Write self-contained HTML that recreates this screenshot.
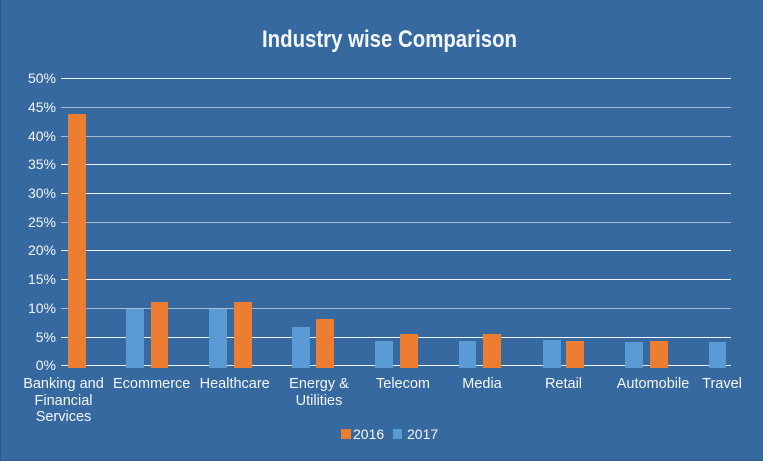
<!DOCTYPE html>
<html>
<head>
<meta charset="utf-8">
<style>
html,body{margin:0;padding:0;background:#35699f;}
svg{display:block;}
text{font-family:"Liberation Sans",Arial,sans-serif;fill:#f4f6f9;}
</style>
</head>
<body>
<svg width="763" height="461" viewBox="0 0 763 461" xmlns="http://www.w3.org/2000/svg">
<rect x="0" y="0" width="763" height="461" fill="#35699f"/>
<rect x="0" y="0" width="1" height="461" fill="#2c5a8a"/>
<rect x="0" y="460" width="763" height="1" fill="#2c5a8a"/>

<text x="389.5" y="47" font-size="24" font-weight="bold" text-anchor="middle" textLength="255" lengthAdjust="spacingAndGlyphs">Industry wise Comparison</text>

<!-- gridlines -->
<g>
<rect x="61" y="78" width="670" height="1" fill="#f0f3f7"/>
<rect x="61" y="107" width="670" height="1" fill="#a9bcd0"/>
<rect x="61" y="136" width="670" height="1" fill="#a9bcd0"/>
<rect x="61" y="164" width="670" height="1" fill="#f0f3f7"/>
<rect x="61" y="193" width="670" height="1" fill="#f0f3f7"/>
<rect x="61" y="222" width="670" height="1" fill="#a9bcd0"/>
<rect x="61" y="250" width="670" height="1" fill="#f0f3f7"/>
<rect x="61" y="279" width="670" height="1" fill="#f0f3f7"/>
<rect x="61" y="308" width="670" height="1" fill="#a9bcd0"/>
<rect x="61" y="337" width="670" height="1" fill="#f0f3f7"/>
<rect x="61" y="365" width="670" height="1" fill="#f0f3f7"/>
</g>

<!-- y labels -->
<g font-size="14" text-anchor="end">
<text x="56" y="83">50%</text>
<text x="56" y="112">45%</text>
<text x="56" y="141">40%</text>
<text x="56" y="169">35%</text>
<text x="56" y="198">30%</text>
<text x="56" y="227">25%</text>
<text x="56" y="255">20%</text>
<text x="56" y="284">15%</text>
<text x="56" y="313">10%</text>
<text x="56" y="342">5%</text>
<text x="56" y="370">0%</text>
</g>

<!-- bars -->
<g fill="#5b9bd5">
<rect x="126" y="309" width="18" height="59"/>
<rect x="209" y="309" width="18" height="59"/>
<rect x="292" y="327" width="18" height="41"/>
<rect x="375" y="341" width="18" height="27"/>
<rect x="459" y="341" width="17" height="27"/>
<rect x="543" y="340" width="18" height="28"/>
<rect x="625" y="342" width="18" height="26"/>
<rect x="709" y="342" width="17" height="26"/>
</g>
<g fill="#ed7d31">
<rect x="68" y="114" width="18" height="254"/>
<rect x="151" y="302" width="17" height="66"/>
<rect x="234" y="302" width="18" height="66"/>
<rect x="316" y="319" width="18" height="49"/>
<rect x="400" y="334" width="18" height="34"/>
<rect x="483" y="334" width="18" height="34"/>
<rect x="566" y="341" width="18" height="27"/>
<rect x="650" y="341" width="18" height="27"/>
</g>

<!-- x labels -->
<g font-size="14.5" text-anchor="middle">
<text x="63.5" y="388">Banking and</text>
<text x="63.5" y="405">Financial</text>
<text x="63.5" y="421">Services</text>
<text x="151.7" y="388">Ecommerce</text>
<text x="234.7" y="388">Healthcare</text>
<text x="319" y="388">Energy &amp;</text>
<text x="319" y="405">Utilities</text>
<text x="403" y="388">Telecom</text>
<text x="482" y="388">Media</text>
<text x="563.5" y="388">Retail</text>
<text x="653" y="388">Automobile</text>
<text x="722" y="388">Travel</text>
</g>

<!-- legend -->
<rect x="341" y="429" width="10" height="10" fill="#ed7d31"/>
<text x="353" y="439" font-size="14">2016</text>
<rect x="393" y="429" width="9" height="10" fill="#5b9bd5"/>
<text x="407" y="439" font-size="14">2017</text>
</svg>
</body>
</html>
